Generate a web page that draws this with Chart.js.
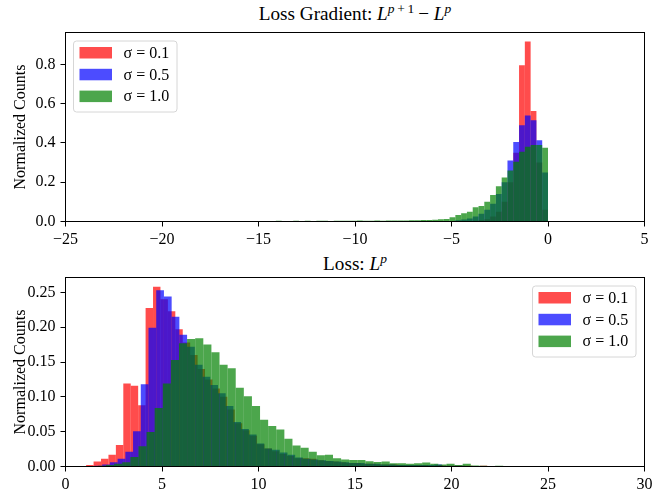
<!DOCTYPE html>
<html>
<head>
<meta charset="utf-8">
<script src="https://cdn.jsdelivr.net/npm/chart.js@4.4.1/dist/chart.umd.min.js"></script>
<style>
  body { margin: 0; background: #fff; width: 652px; height: 491px; position: relative; overflow: hidden;
         font-family: "Liberation Serif", "Times New Roman", serif; }
  canvas { position: absolute; left: 0; }
  .ttl { position: absolute; left: 65.5px; width: 579px; text-align: center; font-size: 19.2px;
         line-height: 22px; color: #000; white-space: nowrap; }
  .ttl sup { font-size: 13.5px; vertical-align: baseline; position: relative; top: -0.55em; }
</style>
</head>
<body>
<div class="ttl" style="top:3px">Loss Gradient: <i>L</i><sup><i>p</i>&#8201;+&#8201;1</sup>&#8201;− <i>L</i><sup><i>p</i></sup></div>
<canvas id="gradChart" width="652" height="250" style="top:0"></canvas>
<div class="ttl" style="top:253px">Loss: <i>L</i><sup><i>p</i></sup></div>
<canvas id="lossChart" width="652" height="241" style="top:250px"></canvas>
<script>
const seriesLabels = ["σ = 0.1", "σ = 0.5", "σ = 1.0"];
const seriesColors = ["rgba(255,0,0,0.7)", "rgba(0,0,255,0.7)", "rgba(0,128,0,0.7)"];

// top panel: L^{p+1} - L^p, bins of 0.3 from -21 to 0
const gradBinStart = -21.0;
const gradBinWidth = 0.3;
const gradRed = [
  0.002, 0.001, 0.001, 0.002, 0.001, 0.002, 0.001, 0.001, 0.002, 0.001,
  0.001, 0.002, 0.001, 0.001, 0.002, 0.001, 0.002, 0.001, 0.001, 0.001,
  0.002, 0.001, 0.001, 0.002, 0.001, 0.001, 0.002, 0.001, 0.002, 0.001,
  0.001, 0.002, 0.001, 0.001, 0.001, 0.002, 0.001, 0.002, 0.001, 0.001,
  0.002, 0.001, 0.001, 0.002, 0.001, 0.002, 0.001, 0.001, 0.002, 0.001,
  0.001, 0.002, 0.001, 0.002, 0.002, 0.002, 0.003, 0.004, 0.006, 0.012,
  0.025, 0.05, 0.1, 0.2, 0.35, 0.795, 0.916, 0.563, 0.30, 0.06
];
const gradBlue = [
  0.001, 0.002, 0.001, 0.001, 0.002, 0.001, 0.001, 0.002, 0.001, 0.002,
  0.001, 0.001, 0.002, 0.001, 0.001, 0.002, 0.001, 0.001, 0.002, 0.001,
  0.001, 0.002, 0.001, 0.001, 0.002, 0.001, 0.002, 0.001, 0.001, 0.002,
  0.001, 0.001, 0.002, 0.001, 0.002, 0.001, 0.001, 0.002, 0.001, 0.002,
  0.001, 0.002, 0.001, 0.002, 0.002, 0.001, 0.002, 0.002, 0.001, 0.002,
  0.002, 0.002, 0.003, 0.003, 0.006, 0.01, 0.015, 0.025, 0.04, 0.06,
  0.09, 0.14, 0.2, 0.31, 0.405, 0.49, 0.54, 0.515, 0.414, 0.25
];
const gradGreen = [
  0.002, 0.002, 0.003, 0.002, 0.002, 0.003, 0.002, 0.003, 0.002, 0.003,
  0.003, 0.002, 0.003, 0.003, 0.002, 0.003, 0.003, 0.003, 0.002, 0.003,
  0.003, 0.003, 0.003, 0.004, 0.003, 0.003, 0.004, 0.003, 0.004, 0.003,
  0.004, 0.004, 0.003, 0.004, 0.004, 0.004, 0.004, 0.005, 0.004, 0.004,
  0.005, 0.004, 0.005, 0.005, 0.005, 0.005, 0.006, 0.006, 0.007, 0.008,
  0.009, 0.011, 0.013, 0.021, 0.033, 0.042, 0.05, 0.072, 0.079, 0.1,
  0.135, 0.18, 0.224, 0.26, 0.304, 0.355, 0.38, 0.39, 0.39, 0.375
];
const gradXTicks = [-25, -20, -15, -10, -5, 0, 5];
const gradYTicks = [0, 0.2, 0.4, 0.6, 0.8];
const gradYMax = 0.962;

// bottom panel: L^p, each series has its own bins
const lossRedStart = 1.07, lossRedWidth = 0.385;
const lossRed = [
  0.002, 0.007, 0.011, 0.017, 0.031, 0.119, 0.116, 0.088, 0.2275, 0.258,
  0.24, 0.223, 0.197, 0.178, 0.16, 0.14, 0.125, 0.112, 0.1, 0.082,
  0.062, 0.052, 0.044, 0.032, 0.026, 0.022, 0.018, 0.015, 0.012, 0.012,
  0.011, 0.009, 0.008, 0.007, 0.006, 0.005, 0.005, 0.004, 0.004, 0.003,
  0.003, 0.003, 0.002, 0.002, 0.002, 0.002, 0.001, 0.002, 0.001, 0.001,
  0.001, 0.001, 0.0005, 0.001, 0.0005, 0.0005, 0.0005, 0.0003, 0.0003, 0.0003
];
const lossBlueStart = 1.5, lossBlueWidth = 0.4;
const lossBlue = [
  0.001, 0.003, 0.006, 0.011, 0.021, 0.0505, 0.118, 0.199, 0.253, 0.244,
  0.215, 0.189, 0.172, 0.146, 0.129, 0.117, 0.105, 0.087, 0.064, 0.054,
  0.046, 0.033, 0.026, 0.024, 0.02, 0.017, 0.013, 0.011, 0.01, 0.009,
  0.008, 0.007, 0.006, 0.005, 0.005, 0.004, 0.004, 0.003, 0.003, 0.002,
  0.002, 0.002, 0.002, 0.002, 0.003, 0.001, 0.001, 0.001, 0.0005, 0.0005,
  0.0005, 0.0003, 0.0003, 0.0003
];
const lossGreenStart = 1.26, lossGreenWidth = 0.42;
const lossGreen = [
  0.0005, 0.001, 0.002, 0.004, 0.006, 0.0135, 0.029, 0.0495, 0.084, 0.119,
  0.153, 0.177, 0.183, 0.184, 0.175, 0.164, 0.146, 0.141, 0.113, 0.101,
  0.087, 0.067, 0.058, 0.053, 0.040, 0.030, 0.027, 0.021, 0.016, 0.017,
  0.012, 0.010, 0.0095, 0.0095, 0.0077, 0.0063, 0.007, 0.0048, 0.0048, 0.004,
  0.0048, 0.0058, 0.004, 0.003, 0.004, 0.002, 0.004, 0.0015, 0.001, 0.0008,
  0.001, 0.0005, 0.0008, 0.0005, 0.0008, 0.0003, 0.0005, 0.0003, 0.0003, 0.0003,
  0.0003, 0.0002, 0.0003, 0.0002, 0.0002, 0.0002, 0.0002, 0.0003, 0.0002, 0.0002,
  0.0002, 0.0002, 0.0002, 0.0002, 0.0002, 0.0002
];
const lossXTicks = [0, 5, 10, 15, 20, 25, 30];
const lossYTicks = [0, 0.05, 0.10, 0.15, 0.20, 0.25];
const lossYMax = 0.2713;

Chart.defaults.font.family = '"Liberation Serif", "Times New Roman", serif';
Chart.defaults.font.size = 16;
Chart.defaults.color = "#000";

function binPoints(start, width, vals) {
  return vals.map((v, i) => ({ x: start + width * (i + 0.5), y: v }));
}

function minusFmt(v) {
  return v < 0 ? "\u2212" + Math.abs(v) : String(v);
}

const frame = {
  id: "frame",
  afterDatasetsDraw(chart) {
    const { ctx, chartArea: a } = chart;
    ctx.save();
    ctx.strokeStyle = "#000";
    ctx.lineWidth = 1;
    ctx.strokeRect(a.left, a.top, a.right - a.left, a.bottom - a.top);
    ctx.restore();
  }
};

const boxLegend = {
  id: "boxLegend",
  afterDraw(chart, args, opts) {
    const { ctx, chartArea: a } = chart;
    const w = 103.5, h = 71;
    const x0 = opts.side === "left" ? a.left + 8 : a.right - 8.5 - w;
    const y0 = a.top + 8.5;
    ctx.save();
    ctx.beginPath();
    ctx.roundRect(x0, y0, w, h, 3);
    ctx.fillStyle = "rgba(255,255,255,0.8)";
    ctx.fill();
    ctx.strokeStyle = "#d6d6d6";
    ctx.lineWidth = 1;
    ctx.stroke();
    ctx.font = '16px "Liberation Serif", serif';
    ctx.textBaseline = "middle";
    chart.data.datasets.forEach((ds, i) => {
      const ry = y0 + 6 + i * 21.8;
      ctx.fillStyle = ds.backgroundColor;
      ctx.fillRect(x0 + 6, ry, 32.5, 11.5);
      ctx.fillStyle = "#000";
      ctx.fillText(ds.label, x0 + 50, ry + 6.5);
    });
    ctx.restore();
  }
};

function xAxis(min, max, ticks, h, show) {
  return {
    type: "linear", min, max, offset: false, display: show,
    grid: { drawOnChartArea: false, drawTicks: true, tickLength: 5, color: "#000", offset: false },
    border: { display: false },
    ticks: { padding: 4, maxRotation: 0, autoSkip: false, callback: minusFmt },
    afterBuildTicks: s => { s.ticks = ticks.map(v => ({ value: v })); },
    afterFit: s => { s.height = h; s.paddingLeft = 0; s.paddingRight = 0; }
  };
}

function yAxis(max, ticks, digits) {
  return {
    min: 0, max,
    grid: { drawOnChartArea: false, drawTicks: true, tickLength: 5, color: "#000" },
    border: { display: false },
    ticks: { padding: 5, includeBounds: false, callback: v => v.toFixed(digits) },
    title: { display: true, text: "Normalized Counts", font: { size: 16 }, padding: { top: 11, bottom: 0 } },
    afterBuildTicks: s => { s.ticks = ticks.map(v => ({ value: v })); },
    afterFit: s => { s.width = 65.5; s.paddingTop = 0; s.paddingBottom = 0; }
  };
}

function barSet(label, color, data, order, xAxisID) {
  return {
    label, data, backgroundColor: color, borderWidth: 0, inflateAmount: 0,
    barPercentage: 1, categoryPercentage: 1, grouped: false, order, xAxisID
  };
}

new Chart(document.getElementById("gradChart"), {
  type: "bar",
  data: {
    datasets: [
      barSet(seriesLabels[0], seriesColors[0], binPoints(gradBinStart, gradBinWidth, gradRed), 3, "x"),
      barSet(seriesLabels[1], seriesColors[1], binPoints(gradBinStart, gradBinWidth, gradBlue), 2, "x"),
      barSet(seriesLabels[2], seriesColors[2], binPoints(gradBinStart, gradBinWidth, gradGreen), 1, "x")
    ]
  },
  options: {
    responsive: false, animation: false,
    layout: { padding: { top: 32.5, right: 7.5, bottom: 0, left: 0 } },
    plugins: { legend: { display: false }, tooltip: { enabled: false }, boxLegend: { side: "left" } },
    scales: {
      x: xAxis(-25, 5, gradXTicks, 28.5, true),
      y: yAxis(gradYMax, gradYTicks, 1)
    }
  },
  plugins: [frame, boxLegend]
});

new Chart(document.getElementById("lossChart"), {
  type: "bar",
  data: {
    datasets: [
      barSet(seriesLabels[0], seriesColors[0], binPoints(lossRedStart, lossRedWidth, lossRed), 3, "x"),
      barSet(seriesLabels[1], seriesColors[1], binPoints(lossBlueStart, lossBlueWidth, lossBlue), 2, "xb"),
      barSet(seriesLabels[2], seriesColors[2], binPoints(lossGreenStart, lossGreenWidth, lossGreen), 1, "xg")
    ]
  },
  options: {
    responsive: false, animation: false,
    layout: { padding: { top: 27.5, right: 7.5, bottom: 0, left: 0 } },
    plugins: { legend: { display: false }, tooltip: { enabled: false }, boxLegend: { side: "right" } },
    scales: {
      x: xAxis(0, 30, lossXTicks, 24.5, true),
      xb: xAxis(0, 30, lossXTicks, 0, false),
      xg: xAxis(0, 30, lossXTicks, 0, false),
      y: yAxis(lossYMax, lossYTicks, 2)
    }
  },
  plugins: [frame, boxLegend]
});
</script>
</body>
</html>
